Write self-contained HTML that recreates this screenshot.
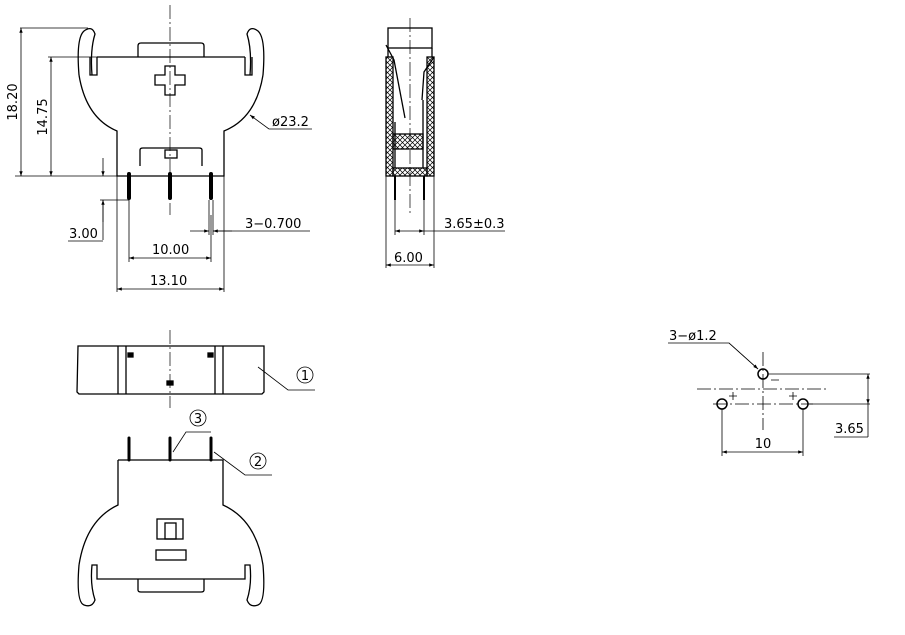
<!DOCTYPE html>
<html><head><meta charset="utf-8"><style>
html,body{margin:0;padding:0;background:#fff;}
svg{display:block;}
text{font-family:"DejaVu Sans","Liberation Sans",sans-serif;font-size:13px;fill:#000;}
</style></head><body>
<svg width="905" height="635" viewBox="0 0 905 635" xmlns="http://www.w3.org/2000/svg">
<defs>
<marker id="a" viewBox="0 0 10 10" refX="10" refY="5" markerWidth="8" markerHeight="6" orient="auto-start-reverse"><path d="M0,1.5 L10,5 L0,8.5 z" fill="#000"/></marker>
<pattern id="h" width="5" height="5" patternUnits="userSpaceOnUse"><path d="M0,0 L5,5 M5,0 L0,5" stroke="#000" stroke-width="0.7"/></pattern>
</defs>
<g fill="none" stroke="#000" stroke-width="1.3">
<!-- front view -->
<line x1="170" y1="5" x2="170" y2="215" stroke-width="0.7" stroke-dasharray="14,3,2,3"/>
<path d="M97,57 H245"/>
<path d="M138,57 V46 q0,-3 3,-3 H201 q3,0 3,3 V57"/>
<path d="M90,57 V75 H97 V57"/>
<path d="M252,57 V75 H245 V57"/>
<path d="M79,75 Q76,38 84,31 Q92,25 95,34 Q90,50 92,75"/>
<path d="M263,75 Q266,38 258,31 Q250,25 247,34 Q252,50 250,75"/>
<path d="M79,75 Q86,118 117,131 V176 H224 V131 Q256,118 263,75"/>
<path d="M165,66 H175 V75 H185 V85 H175 V95 H165 V85 H155 V75 H165 Z"/>
<path d="M140,166 V150 Q140,148 143,148 H199 Q202,148 202,150 V166"/>
<rect x="165" y="150" width="12" height="8"/>
<g stroke-width="4" stroke-linecap="round"><line x1="129" y1="174" x2="129" y2="198"/><line x1="170" y1="174" x2="170" y2="198"/><line x1="211" y1="174" x2="211" y2="198"/></g>
<g stroke-width="0.8">
<line x1="20" y1="28" x2="88" y2="28"/><line x1="15" y1="176" x2="117" y2="176"/>
<line x1="21" y1="28" x2="21" y2="176" marker-start="url(#a)" marker-end="url(#a)"/>
<line x1="48" y1="57" x2="97" y2="57"/>
<line x1="51" y1="57" x2="51" y2="176" marker-start="url(#a)" marker-end="url(#a)"/>
<line x1="100" y1="200" x2="129" y2="200"/>
<line x1="103" y1="158" x2="103" y2="176" marker-end="url(#a)"/>
<line x1="103" y1="222" x2="103" y2="200" marker-end="url(#a)"/>
<line x1="103" y1="200" x2="103" y2="240"/>
<line x1="68" y1="241" x2="103" y2="241"/>
<line x1="209" y1="200" x2="209" y2="235"/><line x1="213" y1="200" x2="213" y2="235"/>
<line x1="190" y1="231" x2="209" y2="231" marker-end="url(#a)"/>
<line x1="232" y1="231" x2="213" y2="231" marker-end="url(#a)"/>
<line x1="213" y1="231" x2="310" y2="231"/>
<line x1="129" y1="200" x2="129" y2="262"/><line x1="211" y1="215" x2="211" y2="262"/>
<line x1="129" y1="258" x2="211" y2="258" marker-start="url(#a)" marker-end="url(#a)"/>
<line x1="117" y1="176" x2="117" y2="292"/><line x1="224" y1="176" x2="224" y2="292"/>
<line x1="117" y1="289" x2="224" y2="289" marker-start="url(#a)" marker-end="url(#a)"/>
<line x1="269" y1="129" x2="250" y2="115" marker-end="url(#a)"/>
<line x1="269" y1="129" x2="312" y2="129"/>
</g>
<!-- side view -->
<line x1="410" y1="18" x2="410" y2="215" stroke-width="0.7" stroke-dasharray="14,3,2,3"/>
<rect x="388" y="28" width="44" height="20"/>
<line x1="388" y1="48" x2="388" y2="57"/><line x1="432" y1="48" x2="432" y2="57"/>
<rect x="386" y="57" width="7" height="119" fill="url(#h)"/>
<rect x="427" y="57" width="7" height="119" fill="url(#h)"/>
<rect x="393" y="134" width="30" height="15" fill="url(#h)"/>
<rect x="393" y="168" width="34" height="8" fill="url(#h)"/>
<path d="M386,45 L394,60 L405,118"/>
<path d="M434,57 L424,72 L422,100"/>
<path d="M395,122 V168"/><path d="M423,100 V168"/>
<line x1="395" y1="176" x2="395" y2="200" stroke-width="2"/>
<line x1="424" y1="176" x2="424" y2="200" stroke-width="2"/>
<g stroke-width="0.8">
<line x1="395" y1="200" x2="395" y2="235"/><line x1="424" y1="200" x2="424" y2="235"/>
<line x1="395" y1="231" x2="424" y2="231" marker-start="url(#a)" marker-end="url(#a)"/>
<line x1="424" y1="231" x2="505" y2="231"/>
<line x1="386" y1="176" x2="386" y2="268"/><line x1="434" y1="176" x2="434" y2="268"/>
<line x1="386" y1="265" x2="434" y2="265" marker-start="url(#a)" marker-end="url(#a)"/>
</g>
<!-- bottom views -->
<line x1="170" y1="330" x2="170" y2="408" stroke-width="0.7" stroke-dasharray="14,3,2,3"/>
<path d="M78,346 H264 V392 L262,394 H79 L77,392 Z"/>
<line x1="118" y1="346" x2="118" y2="394"/><line x1="126" y1="346" x2="126" y2="394"/>
<line x1="215" y1="346" x2="215" y2="394"/><line x1="223" y1="346" x2="223" y2="394"/>
<rect x="128" y="353" width="5" height="4" fill="#000"/><rect x="208" y="353" width="5" height="4" fill="#000"/><rect x="167" y="381" width="6" height="4" fill="#000"/>
<path d="M118,460 H223 V505 Q256,520 263,565"/>
<path d="M118,460 V505 Q86,520 79,565"/>
<path d="M79,565 Q76,602 84,605 Q92,608 95,600 Q90,585 92,565 H97 V579 H245 V565 H250 Q252,585 247,600 Q250,608 258,605 Q266,602 263,565"/>
<path d="M138,579 V590 Q138,592 141,592 H201 Q204,592 204,590 V579"/>
<rect x="157" y="519" width="26" height="20"/><rect x="165" y="523" width="11" height="16"/>
<rect x="156" y="550" width="30" height="10"/>
<g stroke-width="3" stroke-linecap="round"><line x1="129" y1="438" x2="129" y2="460"/><line x1="170" y1="438" x2="170" y2="460"/><line x1="211" y1="438" x2="211" y2="460"/></g>
<g stroke-width="0.8">
<path d="M258,367 L288,390 H315"/><circle cx="305" cy="375" r="8"/>
<path d="M173,452 L186,432 H211"/><circle cx="198" cy="418" r="8"/>
<path d="M214,452 L245,475 H272"/><circle cx="258" cy="461" r="8"/>
</g>
<!-- hole pattern -->
<g stroke-width="0.8">
<line x1="697" y1="389" x2="828" y2="389" stroke-dasharray="14,3,2,3"/>
<line x1="713" y1="404" x2="813" y2="404" stroke-dasharray="14,3,2,3"/>
<line x1="763" y1="352" x2="763" y2="430" stroke-dasharray="14,3,2,3"/>
<line x1="768" y1="374" x2="870" y2="374"/><line x1="808" y1="404" x2="870" y2="404"/>
<line x1="868" y1="374" x2="868" y2="404" marker-start="url(#a)" marker-end="url(#a)"/>
<line x1="868" y1="404" x2="868" y2="437"/><line x1="834" y1="437" x2="868" y2="437"/>
<line x1="722" y1="409" x2="722" y2="456"/><line x1="803" y1="409" x2="803" y2="456"/>
<line x1="722" y1="452" x2="803" y2="452" marker-start="url(#a)" marker-end="url(#a)"/>
<path d="M668,343 H729 L758,369" marker-end="url(#a)"/>
<line x1="729" y1="343" x2="758" y2="369"/>
<path d="M771,380 h8 M729,396 h8 M733,392 v8 M789,396 h8 M793,392 v8"/>
</g>
<circle cx="763" cy="374" r="5" stroke-width="1.5"/>
<circle cx="722" cy="404" r="5" stroke-width="1.5"/>
<circle cx="803" cy="404" r="5" stroke-width="1.5"/>
</g>
<text x="0" y="0" transform="translate(17,102) rotate(-90)" text-anchor="middle">18.20</text>
<text x="0" y="0" transform="translate(47,117) rotate(-90)" text-anchor="middle">14.75</text>
<text x="69" y="238">3.00</text>
<text x="245" y="228">3−0.700</text>
<text x="152" y="254">10.00</text>
<text x="150" y="285">13.10</text>
<text x="272" y="126">ø23.2</text>
<text x="444" y="228">3.65±0.3</text>
<text x="394" y="262">6.00</text>
<text x="305" y="380" text-anchor="middle">1</text>
<text x="198" y="423" text-anchor="middle">3</text>
<text x="258" y="466" text-anchor="middle">2</text>
<text x="669" y="340">3−ø1.2</text>
<text x="835" y="433">3.65</text>
<text x="763" y="448" text-anchor="middle">10</text>
</svg>
</body></html>
